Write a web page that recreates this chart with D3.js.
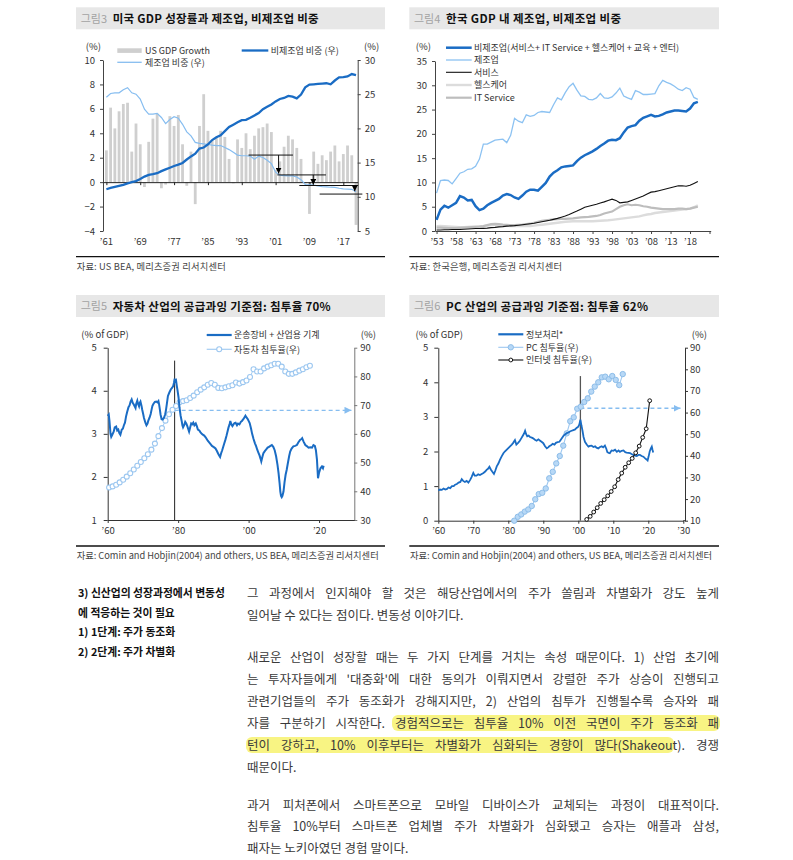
<!DOCTYPE html>
<html><head><meta charset="utf-8">
<script src="https://cdn.jsdelivr.net/npm/d3@7"></script>
<style>
body{margin:0;background:#fff;}
svg text{font-family:"Noto Sans CJK KR","Noto Sans",sans-serif;}
</style></head><body>
<svg id="page" width="793" height="860"></svg>
<script>
// ---------------- DATA ----------------
// Chart 3: US GDP growth & shares (1961-2020)
const usYears = d3.range(1961, 2021);
const usGdpGrowth = [2.6,6.1,4.4,5.8,6.4,6.5,2.5,4.8,3.1,-0.4,
  3.3,5.2,5.6,-0.5,-0.2,5.4,4.6,5.5,3.1,-0.3,
  2.5,-1.8,4.6,7.2,4.2,3.4,3.7,4.2,3.7,1.9,
  -0.1,3.5,2.8,4.0,2.7,3.8,4.4,4.5,4.8,4.1,
  1.0,1.7,2.9,3.8,3.5,2.8,1.9,-0.1,-2.6,2.5,
  1.5,2.2,1.8,2.5,3.0,1.7,2.3,3.0,2.2,-3.5];
const usNonMfgShare = [11.1,11.3,11.45,11.6,11.75,11.95,12.15,12.3,12.6,12.95,
  13.2,13.3,13.45,13.75,14.0,14.25,14.5,14.7,14.95,15.45,
  15.9,16.3,17.05,17.2,17.65,18.3,18.7,19.0,19.6,20.2,
  20.55,20.9,21.2,21.25,21.55,21.9,22.25,22.8,23.15,23.5,
  23.95,24.3,24.45,24.75,24.65,24.4,24.95,26.0,26.4,26.45,
  26.5,26.55,26.6,26.45,27.0,27.45,27.5,27.6,27.95,27.8];
const usMfgShare = [24.55,25.1,25.2,25.2,25.65,25.95,25.2,25.0,24.3,22.8,
  22.1,22.1,22.2,21.6,20.7,21.3,21.7,21.5,20.6,19.5,
  18.9,17.95,17.8,17.75,17.65,17.55,17.48,17.5,17.2,16.9,
  16.5,16.1,16.0,16.0,15.95,15.5,15.95,15.75,15.35,14.85,
  13.6,13.15,13.1,13.05,13.05,12.9,12.5,11.8,11.75,11.7,
  11.6,11.5,11.45,11.4,11.38,11.25,11.15,11.12,11.1,10.75];
const usTickYears = [1961,1969,1977,1985,1993,2001,2009,2017];
const usLeftTicks = [-4,-2,0,2,4,6,8,10];
const usRightTicks = [5,10,15,20,25,30];
// step-down annotation levels (right axis) [fromYear, toYear, level]
const usLevelLines = [[1994.6,2005.1,16.1],[2001.4,2012.9,13.2],[2006.6,2020.5,11.65],[2011.4,2021.5,10.4]];
// arrows [year, fromLevel, toLevel]
const usLevelArrows = [[2001.7,16.1,13.4],[2009.9,13.2,11.75],[2019.7,11.65,10.8]];

// Chart 4: Korea shares of GDP (1953-2020)
const krYears = d3.range(1953, 2021);
const krNonMfg = [2.3,4.4,5.2,4.8,5.3,5.8,7.2,6.9,
  6.3,6.4,5.1,4.3,4.6,5.3,5.8,6.2,6.6,7.3,
  7.6,7.4,6.9,6.6,7.3,8.1,8.5,8.5,8.3,9.1,
  9.9,11.2,12.0,12.5,13.1,13.3,13.4,13.5,14.4,15.1,
  15.6,16.0,16.4,16.9,17.5,18.0,18.6,18.8,18.7,19.1,
  20.3,21.3,21.6,21.8,22.7,23.3,23.6,23.9,23.6,23.7,
  24.0,24.4,24.6,24.8,24.8,24.7,24.6,25.2,26.3,26.6];
const krMfg = [7.8,10.4,10.5,10.4,9.7,10.8,11.9,12.2,
  12.7,12.8,13.3,14.8,17.9,17.9,18.3,18.7,18.8,18.9,
  18.2,19.7,23.2,22.6,22.3,23.9,23.6,23.8,24.4,24.6,
  24.5,24.4,26.0,27.4,27.0,28.5,29.7,30.4,29.0,27.8,
  27.7,27.1,27.0,27.4,28.3,27.4,27.3,27.6,28.4,29.4,
  27.8,27.4,27.1,28.9,28.6,28.1,28.1,28.2,28.3,29.9,
  31.0,30.6,30.3,29.8,29.2,28.9,29.5,29.2,27.5,27.1];
const krService = [0.2,0.2,0.25,0.25,0.3,0.3,0.3,0.35,
  0.4,0.45,0.5,0.5,0.55,0.6,0.7,0.75,0.85,0.9,
  1.0,1.05,1.1,1.2,1.3,1.4,1.5,1.6,1.75,1.9,
  2.05,2.2,2.4,2.6,2.85,3.1,3.4,3.75,4.1,4.5,
  4.9,5.1,5.3,5.5,5.75,6.0,6.3,6.55,6.3,5.8,
  5.9,6.0,6.3,6.6,6.9,7.2,7.6,8.0,8.1,8.3,
  8.5,8.7,8.9,9.1,9.3,9.3,9.2,9.4,9.8,10.2];
const krHealth = [1.0,1.05,1.0,0.95,0.9,0.85,0.8,0.8,
  0.85,0.9,0.9,0.95,1.0,1.1,1.2,1.3,1.2,1.1,
  1.1,1.0,1.0,1.0,1.0,1.0,1.0,1.1,1.2,1.3,
  1.4,1.5,1.6,1.7,1.8,1.9,1.95,2.0,2.0,2.0,
  2.0,2.0,2.0,2.05,2.1,2.15,2.2,2.3,2.4,2.5,
  2.6,2.7,2.8,2.9,3.0,3.2,3.4,3.5,3.7,3.8,
  3.9,4.0,4.1,4.2,4.3,4.4,4.5,4.6,4.9,5.3];
const krITService = [0.7,0.7,0.65,0.6,0.6,0.6,0.65,0.7,
  0.75,0.8,0.85,0.9,1.0,1.2,1.4,1.45,1.4,1.3,
  1.25,1.2,1.2,1.25,1.3,1.4,1.5,1.7,1.9,2.1,
  2.2,2.3,2.4,2.45,2.5,2.5,2.55,2.6,2.7,2.8,
  2.85,2.9,3.0,3.1,3.3,3.6,3.8,4.0,4.5,5.0,
  5.3,5.5,5.3,5.4,5.3,5.1,5.0,4.8,4.7,4.6,
  4.5,4.5,4.5,4.5,4.6,4.6,4.5,4.6,4.8,5.0];
const krTickYears = [1953,1958,1963,1968,1973,1978,1983,1988,1993,1998,2003,2008,2013,2018,2023];
const krYTicks = [0,5,10,15,20,25,30,35];

// Chart 5: transport equipment + machinery (% of GDP) and auto penetration
const machinery = [[1960.0,3.42],[1960.3,3.45],[1960.5,3.3],[1960.8,3.0],[1961.0,2.93],[1961.3,2.98],[1961.7,3.05],[1962.0,3.15],[1962.4,3.17],[1962.7,3.08],[1963.0,3.1],[1963.3,3.02],[1963.6,2.98],[1964.0,3.1],[1964.3,3.12],[1964.6,3.2],[1964.9,3.26],[1965.2,3.4],[1965.5,3.5],[1965.9,3.62],[1966.2,3.66],[1966.5,3.75],[1966.8,3.8],[1967.1,3.72],[1967.4,3.68],[1967.9,3.6],[1968.1,3.7],[1968.4,3.77],[1968.6,3.7],[1968.9,3.64],[1969.1,3.72],[1969.3,3.75],[1969.6,3.65],[1969.8,3.56],[1970.1,3.45],[1970.3,3.37],[1970.7,3.26],[1971.0,3.2],[1971.3,3.24],[1971.5,3.3],[1971.9,3.38],[1972.2,3.46],[1972.5,3.58],[1972.7,3.65],[1973.0,3.7],[1973.4,3.74],[1973.8,3.75],[1974.1,3.73],[1974.4,3.76],[1974.6,3.68],[1974.8,3.57],[1975.0,3.45],[1975.3,3.34],[1975.6,3.33],[1976.0,3.38],[1976.3,3.45],[1976.5,3.53],[1976.8,3.7],[1977.1,3.88],[1977.5,3.96],[1977.9,4.03],[1978.2,4.06],[1978.6,4.11],[1978.8,4.18],[1979.0,4.28],[1979.2,4.22],[1979.4,4.24],[1979.6,4.12],[1979.8,4.02],[1980.1,3.85],[1980.4,3.6],[1980.7,3.42],[1981.0,3.3],[1981.2,3.2],[1981.4,3.15],[1981.7,3.2],[1982.0,3.28],[1982.3,3.24],[1982.6,3.18],[1982.9,3.1],[1983.1,3.05],[1983.4,3.15],[1983.7,3.24],[1984.0,3.22],[1984.3,3.26],[1984.6,3.2],[1985.0,3.24],[1985.3,3.18],[1985.6,3.1],[1986.0,3.08],[1986.3,3.04],[1986.7,3.0],[1987.0,2.98],[1987.4,2.96],[1987.8,2.92],[1988.1,2.88],[1988.4,2.84],[1988.8,2.8],[1989.2,2.76],[1989.6,2.72],[1990.0,2.7],[1990.3,2.68],[1990.6,2.66],[1991.0,2.6],[1991.3,2.55],[1991.6,2.5],[1991.9,2.46],[1992.2,2.55],[1992.5,2.62],[1992.8,2.7],[1993.1,2.78],[1993.4,2.86],[1993.7,2.95],[1994.0,3.05],[1994.3,3.15],[1994.6,3.22],[1994.8,3.3],[1995.1,3.22],[1995.4,3.18],[1995.7,3.22],[1996.0,3.25],[1996.3,3.26],[1996.7,3.2],[1997.0,3.24],[1997.4,3.22],[1997.8,3.28],[1998.1,3.3],[1998.5,3.34],[1998.8,3.38],[1999.1,3.42],[1999.4,3.38],[1999.7,3.35],[2000.0,3.3],[2000.3,3.25],[2000.7,3.12],[2001.0,3.0],[2001.4,2.88],[2001.8,2.78],[2002.1,2.72],[2002.5,2.62],[2002.8,2.56],[2003.1,2.5],[2003.4,2.42],[2003.6,2.36],[2003.9,2.46],[2004.2,2.55],[2004.6,2.6],[2005.0,2.64],[2005.4,2.68],[2005.8,2.7],[2006.2,2.72],[2006.6,2.74],[2007.0,2.7],[2007.4,2.62],[2007.8,2.48],[2008.2,2.28],[2008.5,2.09],[2008.8,1.85],[2009.0,1.66],[2009.2,1.56],[2009.4,1.53],[2009.6,1.56],[2009.9,1.66],[2010.2,1.88],[2010.5,2.05],[2010.8,2.16],[2011.1,2.3],[2011.5,2.48],[2011.8,2.59],[2012.2,2.66],[2012.7,2.71],[2013.2,2.72],[2013.7,2.74],[2014.1,2.8],[2014.6,2.86],[2015.0,2.88],[2015.2,2.9],[2015.6,2.82],[2016.1,2.74],[2016.6,2.71],[2017.0,2.68],[2017.5,2.69],[2018.0,2.68],[2018.4,2.74],[2018.8,2.72],[2019.1,2.62],[2019.4,2.4],[2019.7,1.97],[2020.0,2.1],[2020.4,2.2],[2020.8,2.24],[2021.1,2.2],[2021.3,2.26]];
const autoYears = d3.range(1960, 2018);
const autoPenetration = [41.3,41.7,42.3,43.1,44.0,45.1,46.3,47.6,48.9,50.2,
  51.5,52.9,54.5,56.6,59.2,62.0,64.6,66.8,68.4,69.7,
  71.0,71.4,71.7,72.5,73.3,74.5,75.4,76.2,77.1,77.7,
  77.1,76.0,75.9,76.2,76.6,76.9,77.9,77.5,78.0,78.6,
  79.8,82.5,81.7,81.7,82.8,83.4,83.9,84.4,84.4,83.4,
  81.7,80.9,80.9,81.4,82.0,82.5,83.2,83.7];
const autoMarkYear = 1979, autoMarkTop = 4.7, autoThreshold = 68.2;

// Chart 6: information processing (% of GDP), PC & internet penetration
const infoProc = [[1960.0,0.87],[1960.5,0.9],[1961.0,0.89],[1961.5,0.93],[1962.0,0.9],[1962.5,0.92],[1962.9,0.96],[1963.4,0.94],[1963.9,1.0],[1964.4,1.0],[1964.8,1.04],[1965.3,1.06],[1965.8,1.1],[1966.3,1.12],[1966.7,1.2],[1967.1,1.15],[1967.6,1.12],[1968.1,1.15],[1968.6,1.1],[1969.1,1.18],[1969.5,1.26],[1970.0,1.38],[1970.4,1.3],[1970.9,1.3],[1971.4,1.34],[1971.9,1.32],[1972.4,1.35],[1972.9,1.38],[1973.4,1.42],[1973.8,1.47],[1974.2,1.5],[1974.6,1.56],[1975.0,1.48],[1975.4,1.42],[1975.9,1.35],[1976.3,1.45],[1976.7,1.57],[1977.2,1.66],[1977.6,1.76],[1978.1,1.86],[1978.6,1.95],[1979.0,2.0],[1979.5,2.05],[1980.0,2.1],[1980.5,2.15],[1981.0,2.2],[1981.4,2.25],[1981.9,2.33],[1982.3,2.2],[1982.8,2.25],[1983.3,2.31],[1983.7,2.38],[1984.1,2.45],[1984.5,2.52],[1984.8,2.6],[1985.1,2.5],[1985.4,2.44],[1985.8,2.46],[1986.2,2.42],[1986.7,2.4],[1987.1,2.38],[1987.6,2.34],[1988.1,2.31],[1988.6,2.35],[1989.0,2.32],[1989.5,2.28],[1990.0,2.24],[1990.5,2.15],[1991.0,2.09],[1991.4,2.12],[1991.7,2.15],[1992.2,2.18],[1992.7,2.22],[1993.2,2.2],[1993.6,2.25],[1994.1,2.27],[1994.6,2.28],[1995.2,2.37],[1995.9,2.47],[1996.3,2.5],[1996.7,2.53],[1997.2,2.55],[1997.6,2.58],[1998.1,2.6],[1998.6,2.62],[1999.1,2.64],[1999.5,2.68],[2000.0,2.72],[2000.3,2.78],[2000.6,2.92],[2000.9,2.75],[2001.2,2.6],[2001.5,2.42],[2001.9,2.28],[2002.4,2.2],[2002.9,2.14],[2003.3,2.16],[2003.8,2.17],[2004.3,2.13],[2004.8,2.15],[2005.2,2.11],[2005.7,2.09],[2006.2,2.13],[2006.7,2.15],[2007.1,2.12],[2007.6,2.17],[2008.0,2.08],[2008.3,1.98],[2008.7,1.96],[2009.0,1.95],[2009.5,2.03],[2010.0,2.02],[2010.5,2.05],[2011.0,1.99],[2011.5,2.03],[2011.9,1.99],[2012.4,2.02],[2012.9,2.03],[2013.4,1.98],[2013.8,1.97],[2014.3,1.96],[2014.8,1.95],[2015.2,1.93],[2015.7,1.9],[2016.2,1.88],[2016.7,1.87],[2017.2,1.9],[2017.6,1.9],[2018.1,1.87],[2018.6,1.85],[2019.1,1.8],[2019.5,1.77],[2019.8,1.74],[2020.1,1.86],[2020.4,2.0],[2020.7,2.08],[2021.0,2.14],[2021.2,2.05],[2021.4,1.97]];
const pcYears = d3.range(1982, 2014);
const pcPenetration = [10.0,11.8,12.9,14.2,15.2,16.8,19.9,22.3,22.9,24.9,
  29.6,32.6,36.5,39.9,44.7,50.4,56.0,57.8,61.8,62.7,
  64.9,66.6,69.7,72.0,74.0,76.3,76.6,75.4,76.9,75.1,72.7,77.8];
const netYears = d3.range(2002, 2021);
const netPenetration = [10.6,12.0,14.0,16.0,18.0,19.7,21.5,23.5,25.7,29.0,
  32.0,34.7,36.8,38.8,41.4,44.5,48.5,52.5,65.5];
const pcMarkYear = 2000.6, pcMarkTop = 4.18, pcThreshold = 62;
const decadeTicks = [1960,1970,1980,1990,2000,2010,2020,2030];

// Text block
const sideNotes = ["3) 신산업의 성장과정에서 변동성","에 적응하는 것이 필요","1) 1단계: 주가 동조화","2) 2단계: 주가 차별화"];
const bodyLines = [
  ["그 과정에서 인지해야 할 것은 해당산업에서의 주가 쏠림과 차별화가 강도 높게", true],
  ["일어날 수 있다는 점이다. 변동성 이야기다.", false],
  ["새로운 산업이 성장할 때는 두 가지 단계를 거치는 속성 때문이다. 1) 산업 초기에", true],
  ["는 투자자들에게 '대중화'에 대한 동의가 이뤄지면서 강렬한 주가 상승이 진행되고", true],
  ["관련기업들의 주가 동조화가 강해지지만, 2) 산업의 침투가 진행될수록 승자와 패", true],
  ["자를 구분하기 시작한다. 경험적으로는 침투율 10% 이전 국면이 주가 동조화 패", true],
  ["턴이 강하고, 10% 이후부터는 차별화가 심화되는 경향이 많다(Shakeout). 경쟁", true],
  ["때문이다.", false],
  ["과거 피처폰에서 스마트폰으로 모바일 디바이스가 교체되는 과정이 대표적이다.", true],
  ["침투율 10%부터 스마트폰 업체별 주가 차별화가 심화됐고 승자는 애플과 삼성,", true],
  ["패자는 노키아였던 경험 말이다.", false]];

// ---------------- DRAWING ----------------
const FONT = '"Noto Sans CJK KR","Noto Sans",sans-serif';
const DARK = "#1a6cc4", LIGHT = "#86bdf0";
const svg = d3.select("#page");
const defs = svg.append("defs");
function marker(id, color, size) {
  defs.append("marker").attr("id", id).attr("viewBox", "0 0 10 10").attr("refX", 10).attr("refY", 5)
    .attr("markerWidth", size).attr("markerHeight", size).attr("markerUnits", "userSpaceOnUse").attr("orient", "auto")
    .append("path").attr("d", "M0,0L10,5L0,10Z").attr("fill", color);
}
marker("arrK", "#000", 6);
marker("arrB", "#86bdf0", 7);

function styleAxis(sel, color) {
  sel.attr("font-family", FONT).attr("font-size", 9.5);
  sel.select(".domain").attr("stroke", color);
  sel.selectAll(".tick line").attr("stroke", color);
  sel.selectAll(".tick text").attr("fill", "#333");
}
const yr = y => "’" + String(y).slice(2);
const intFmt = d3.format("d");

function header(x, y, w, label, title, titleW) {
  svg.append("rect").attr("x", x).attr("y", y).attr("width", w).attr("height", 22).attr("fill", "#e7e7e7");
  svg.append("text").attr("x", x + 4.7).attr("y", y + 15.3).attr("font-size", 11).attr("fill", "#a3a3a3").text(label);
  svg.append("text").attr("x", x + 36.7).attr("y", y + 15.5).attr("font-size", 11.5).attr("font-weight", 700)
    .attr("fill", "#111").attr("textLength", titleW).attr("lengthAdjust", "spacing").text(title);
}
function source(x, y, w, txt, txtW) {
  svg.append("line").attr("x1", x).attr("x2", x + w).attr("y1", y).attr("y2", y).attr("stroke", "#111").attr("stroke-width", 1.3);
  svg.append("text").attr("x", x + 0.7).attr("y", y + 13.3).attr("font-size", 9.3).attr("fill", "#444")
    .attr("textLength", txtW).attr("lengthAdjust", "spacing").text(txt);
}
function legendText(x, y, t) {
  svg.append("text").attr("x", x).attr("y", y + 3.3).attr("font-size", 9).attr("fill", "#333").text(t);
}

// ===== Chart 3 =====
header(76, 7.3, 309, "그림3", "미국 GDP 성장률과 제조업, 비제조업 비중", 206);
{
  const x = d3.scaleLinear().domain([1960.2, 2020.4]).range([103, 357.7]);
  const yL = d3.scaleLinear().domain([-4, 10]).range([231, 60]);
  const yR = d3.scaleLinear().domain([5, 30]).range([231, 60]);
  const g = svg.append("g");
  g.selectAll("rect.bar").data(usGdpGrowth).join("rect").attr("class", "bar")
    .attr("x", (d, i) => x(usYears[i]) - 1.4).attr("width", 2.8)
    .attr("y", d => yL(Math.max(0, d))).attr("height", d => Math.abs(yL(d) - yL(0)))
    .attr("fill", "#cfcfcf");
  g.append("g").attr("transform", `translate(103,0)`)
    .call(d3.axisLeft(yL).tickValues(usLeftTicks).tickSize(3).tickSizeOuter(0).tickPadding(5)).call(styleAxis, "#444");
  g.append("g").attr("transform", `translate(357.7,0)`)
    .call(d3.axisRight(yR).tickValues(usRightTicks).tickSize(3).tickSizeOuter(0).tickPadding(4)).call(styleAxis, "#444");
  g.append("g").attr("transform", `translate(0,${yL(0)})`)
    .call(d3.axisBottom(x).tickValues(usTickYears).tickSize(3).tickSizeOuter(0).tickFormat("")).call(styleAxis, "#222");
  g.selectAll("text.xl").data(usTickYears).join("text").attr("class", "xl")
    .attr("x", d => x(d)).attr("y", 245).attr("text-anchor", "middle").attr("font-size", 9.5).attr("fill", "#333").text(yr);
  const line = d3.line().x((d, i) => x(usYears[i])).y(d => yR(d));
  g.append("path").attr("d", line(usMfgShare)).attr("fill", "none").attr("stroke", LIGHT).attr("stroke-width", 1.2);
  g.append("path").attr("d", line(usNonMfgShare)).attr("fill", "none").attr("stroke", DARK).attr("stroke-width", 2.3);
  g.selectAll("line.lv").data(usLevelLines).join("line").attr("class", "lv")
    .attr("x1", d => x(d[0])).attr("x2", d => x(d[1])).attr("y1", d => yR(d[2])).attr("y2", d => yR(d[2]))
    .attr("stroke", "#111").attr("stroke-width", 1);
  g.selectAll("line.ar").data(usLevelArrows).join("line").attr("class", "ar")
    .attr("x1", d => x(d[0])).attr("x2", d => x(d[0])).attr("y1", d => yR(d[1])).attr("y2", d => yR(d[2]))
    .attr("stroke", "#111").attr("stroke-width", 1).attr("marker-end", "url(#arrK)");
  svg.append("text").attr("x", 93.3).attr("y", 49.5).attr("text-anchor", "middle").attr("font-size", 9.5).attr("fill", "#333").text("(%)");
  svg.append("text").attr("x", 371.7).attr("y", 49.5).attr("text-anchor", "middle").attr("font-size", 9.5).attr("fill", "#333").text("(%)");
  svg.append("rect").attr("x", 117.3).attr("y", 48.3).attr("width", 24.4).attr("height", 4.6).attr("fill", "#cfcfcf");
  legendText(145, 50.5, "US GDP Growth");
  svg.append("line").attr("x1", 241.7).attr("x2", 268.3).attr("y1", 50.5).attr("y2", 50.5).attr("stroke", DARK).attr("stroke-width", 2.3);
  legendText(270.7, 50.5, "비제조업 비중 (우)");
  svg.append("line").attr("x1", 117.3).attr("x2", 141.7).attr("y1", 62.3).attr("y2", 62.3).attr("stroke", LIGHT).attr("stroke-width", 1.3);
  legendText(145, 62.3, "제조업 비중 (우)");
}
source(76, 256.7, 309, "자료: US BEA, 메리츠증권 리서치센터", 149);

// ===== Chart 4 =====
header(409.3, 7.3, 309.7, "그림4", "한국 GDP 내 제조업, 비제조업 비중", 175);
{
  const x = d3.scaleLinear().domain([1952.6, 2023.3]).range([435, 710.7]);
  const y = d3.scaleLinear().domain([0, 35]).range([231, 61]);
  const g = svg.append("g");
  g.append("g").attr("transform", `translate(435,0)`)
    .call(d3.axisLeft(y).tickValues(krYTicks).tickSize(3).tickSizeOuter(0).tickPadding(5)).call(styleAxis, "#444");
  g.append("g").attr("transform", `translate(0,231)`)
    .call(d3.axisBottom(x).tickValues(krTickYears).tickSize(3).tickSizeOuter(0).tickPadding(4)
      .tickFormat(d => d === 2023 ? "" : yr(d))).call(styleAxis, "#444");
  const line = d3.line().x((d, i) => x(krYears[i])).y(d => y(d));
  const series = [[krHealth, "#dcdcdc", 2.4], [krITService, "#bdbdbd", 2.2], [krService, "#111", 1.1],
                  [krMfg, "#8cc2f2", 1.3], [krNonMfg, DARK, 2.5]];
  series.forEach(s => g.append("path").attr("d", line(s[0])).attr("fill", "none").attr("stroke", s[1]).attr("stroke-width", s[2]));
  svg.append("text").attr("x", 423.3).attr("y", 49.5).attr("text-anchor", "middle").attr("font-size", 9.5).attr("fill", "#333").text("(%)");
  const leg = [["비제조업(서비스+ IT Service + 헬스케어 + 교육 + 엔터)", DARK, 2.5], ["제조업", "#8cc2f2", 1.3],
               ["서비스", "#111", 1.1], ["헬스케어", "#dcdcdc", 2.4], ["IT Service", "#bdbdbd", 2.2]];
  const rows = [47.7, 60, 72.3, 85, 97.7];
  leg.forEach((l, i) => {
    svg.append("line").attr("x1", 446).attr("x2", 471.7).attr("y1", rows[i]).attr("y2", rows[i]).attr("stroke", l[1]).attr("stroke-width", l[2]);
    legendText(474, rows[i], l[0]);
  });
}
source(409.3, 256.7, 309.7, "자료: 한국은행, 메리츠증권 리서치센터", 152);

// ===== Chart 5 =====
header(76, 295, 309, "그림5", "자동차 산업의 공급과잉 기준점: 침투율 70%", 218);
{
  const x = d3.scaleLinear().domain([1960, 2030]).range([107.7, 354.3]);
  const yL = d3.scaleLinear().domain([1, 5]).range([520, 347.7]);
  const yR = d3.scaleLinear().domain([30, 90]).range([520, 347.7]);
  const g = svg.append("g");
  g.append("g").attr("transform", `translate(107.7,0)`)
    .call(d3.axisLeft(yL).tickValues([1, 2, 3, 4, 5]).tickFormat(intFmt).tickSize(4).tickSizeOuter(0).tickPadding(7)).call(styleAxis, "#333");
  g.append("g").attr("transform", `translate(354.3,0)`)
    .call(d3.axisRight(yR).tickValues([30, 40, 50, 60, 70, 80, 90]).tickSize(3).tickSizeOuter(0).tickPadding(3)).call(styleAxis, "#777");
  g.append("g").attr("transform", `translate(0,520)`)
    .call(d3.axisBottom(x).tickValues([1960, 1980, 2000, 2020]).tickSize(3).tickSizeOuter(0).tickPadding(4).tickFormat(yr)).call(styleAxis, "#333");
  g.append("line").attr("x1", x(autoMarkYear)).attr("x2", x(autoMarkYear)).attr("y1", yL(autoMarkTop)).attr("y2", 520)
    .attr("stroke", "#222").attr("stroke-width", 1);
  g.append("line").attr("x1", x(autoMarkYear)).attr("x2", x(2029.2)).attr("y1", yR(autoThreshold)).attr("y2", yR(autoThreshold))
    .attr("stroke", LIGHT).attr("stroke-width", 1.3).attr("stroke-dasharray", "4,3").attr("marker-end", "url(#arrB)");
  const lineA = d3.line().x((d, i) => x(autoYears[i] + 0.4)).y(d => yR(d));
  g.append("path").attr("d", lineA(autoPenetration)).attr("fill", "none").attr("stroke", "#a4ccf2").attr("stroke-width", 1);
  g.selectAll("circle.ap").data(autoPenetration).join("circle").attr("class", "ap")
    .attr("cx", (d, i) => x(autoYears[i] + 0.4)).attr("cy", d => yR(d)).attr("r", 2.5)
    .attr("fill", "#fff").attr("stroke", "#9cc7f0").attr("stroke-width", 1.1);
  const lineM = d3.line().x(d => x(d[0])).y(d => yL(d[1]));
  g.append("path").attr("d", lineM(machinery)).attr("fill", "none").attr("stroke", DARK).attr("stroke-width", 2);
  svg.append("text").attr("x", 105).attr("y", 338).attr("text-anchor", "middle").attr("font-size", 9.5).attr("fill", "#333").text("(% of GDP)");
  svg.append("text").attr("x", 368.3).attr("y", 338).attr("text-anchor", "middle").attr("font-size", 9.5).attr("fill", "#333").text("(%)");
  svg.append("line").attr("x1", 206.7).attr("x2", 231.7).attr("y1", 335).attr("y2", 335).attr("stroke", DARK).attr("stroke-width", 2.2);
  legendText(234, 335, "운송장비 + 산업용 기계");
  svg.append("line").attr("x1", 206.7).attr("x2", 231.7).attr("y1", 349.3).attr("y2", 349.3).attr("stroke", "#a4ccf2").attr("stroke-width", 1.2);
  svg.append("circle").attr("cx", 219.2).attr("cy", 349.3).attr("r", 2.5).attr("fill", "#fff").attr("stroke", "#9cc7f0").attr("stroke-width", 1.1);
  legendText(234, 349.3, "자동차 침투율(우)");
}
source(76, 546, 309, "자료: Comin and Hobjin(2004) and others, US BEA, 메리츠증권 리서치센터", 302);

// ===== Chart 6 =====
header(409.3, 295, 309.7, "그림6", "PC 산업의 공급과잉 기준점: 침투율 62%", 202);
{
  const x = d3.scaleLinear().domain([1960, 2030]).range([438.3, 683.3]);
  const yL = d3.scaleLinear().domain([0, 5]).range([520.7, 347.7]);
  const yR = d3.scaleLinear().domain([10, 90]).range([520.7, 347.7]);
  const g = svg.append("g");
  g.append("g").attr("transform", `translate(438.3,0)`)
    .call(d3.axisLeft(yL).tickValues([0, 1, 2, 3, 4, 5]).tickFormat(intFmt).tickSize(4).tickSizeOuter(0).tickPadding(6)).call(styleAxis, "#333");
  g.append("g").attr("transform", `translate(685,0)`)
    .call(d3.axisRight(yR).tickValues([10, 20, 30, 40, 50, 60, 70, 80, 90]).tickSize(3).tickSizeOuter(0).tickPadding(2)).call(styleAxis, "#333");
  g.append("g").attr("transform", `translate(0,520.7)`)
    .call(d3.axisBottom(x).tickValues(decadeTicks).tickSize(3).tickSizeOuter(0).tickPadding(4).tickFormat(yr)).call(styleAxis, "#333");
  g.append("line").attr("x1", 683.3).attr("x2", 685).attr("y1", 520.7).attr("y2", 520.7).attr("stroke", "#333");
  g.append("line").attr("x1", x(pcMarkYear)).attr("x2", x(pcMarkYear)).attr("y1", yL(pcMarkTop)).attr("y2", 520.7)
    .attr("stroke", "#555").attr("stroke-width", 1.3);
  g.append("line").attr("x1", x(pcMarkYear)).attr("x2", x(2029.2)).attr("y1", yR(pcThreshold)).attr("y2", yR(pcThreshold))
    .attr("stroke", LIGHT).attr("stroke-width", 1.3).attr("stroke-dasharray", "4,3").attr("marker-end", "url(#arrB)");
  const lineP = d3.line().x((d, i) => x(pcYears[i] - 0.3)).y(d => yR(d));
  g.append("path").attr("d", lineP(pcPenetration)).attr("fill", "none").attr("stroke", "#9cc7f0").attr("stroke-width", 1.1);
  g.selectAll("circle.pc").data(pcPenetration).join("circle").attr("class", "pc")
    .attr("cx", (d, i) => x(pcYears[i] - 0.3)).attr("cy", d => yR(d)).attr("r", 2.7)
    .attr("fill", "#b7d8f6").attr("stroke", "#8dbde9").attr("stroke-width", 1);
  const lineI = d3.line().x(d => x(d[0])).y(d => yL(d[1]));
  g.append("path").attr("d", lineI(infoProc)).attr("fill", "none").attr("stroke", DARK).attr("stroke-width", 1.8);
  const lineN = d3.line().x((d, i) => x(netYears[i] + 0.4)).y(d => yR(d));
  g.append("path").attr("d", lineN(netPenetration)).attr("fill", "none").attr("stroke", "#111").attr("stroke-width", 1.1);
  g.selectAll("circle.nt").data(netPenetration).join("circle").attr("class", "nt")
    .attr("cx", (d, i) => x(netYears[i] + 0.4)).attr("cy", d => yR(d)).attr("r", 1.9)
    .attr("fill", "#fff").attr("stroke", "#111").attr("stroke-width", 1);
  svg.append("text").attr("x", 439.3).attr("y", 337.5).attr("text-anchor", "middle").attr("font-size", 9.5).attr("fill", "#333").text("(% of GDP)");
  svg.append("text").attr("x", 699.3).attr("y", 337.5).attr("text-anchor", "middle").attr("font-size", 9.5).attr("fill", "#333").text("(%)");
  svg.append("line").attr("x1", 498.3).attr("x2", 523.3).attr("y1", 334.3).attr("y2", 334.3).attr("stroke", DARK).attr("stroke-width", 2.2);
  legendText(526, 334.3, "정보처리*");
  svg.append("line").attr("x1", 498.3).attr("x2", 523.3).attr("y1", 347.3).attr("y2", 347.3).attr("stroke", "#9cc7f0").attr("stroke-width", 1.1);
  svg.append("circle").attr("cx", 510.8).attr("cy", 347.3).attr("r", 2.7).attr("fill", "#b7d8f6").attr("stroke", "#8dbde9");
  legendText(526, 347.3, "PC 침투율(우)");
  svg.append("line").attr("x1", 498.3).attr("x2", 523.3).attr("y1", 360).attr("y2", 360).attr("stroke", "#111").attr("stroke-width", 1.1);
  svg.append("circle").attr("cx", 510.8).attr("cy", 360).attr("r", 1.9).attr("fill", "#fff").attr("stroke", "#111");
  legendText(526, 360, "인터넷 침투율(우)");
}
source(409.3, 546, 309.7, "자료: Comin and Hobjin(2004) and others, US BEA, 메리츠증권 리서치센터", 302);

// ===== Text block =====
const sideY = [593, 612.5, 632, 652];
sideNotes.forEach((t, i) => svg.append("text").attr("x", 78).attr("y", sideY[i] + 4)
  .attr("font-size", 10.8).attr("font-weight", 700).attr("fill", "#111").text(t));
const bodyY = [593, 615, 657, 679, 701, 723, 745, 767, 805, 826, 848];
// highlighter
svg.append("rect").attr("x", 392).attr("y", 715).attr("width", 328).attr("height", 16).attr("rx", 6).attr("fill", "#f6f164").attr("opacity", 0.8);
svg.append("rect").attr("x", 246).attr("y", 737).attr("width", 428).attr("height", 16).attr("rx", 6).attr("fill", "#f6f164").attr("opacity", 0.8);
bodyLines.forEach((l, i) => {
  const t = svg.append("text").attr("x", 247).attr("y", bodyY[i] + 4.6).attr("font-size", 12.5).attr("fill", "#3a3a3a").text(l[0]);
  if (l[1]) {
    const w = t.node().getComputedTextLength();
    const spaces = (l[0].match(/ /g) || []).length;
    if (spaces > 0) t.attr("word-spacing", ((472 - w) / spaces).toFixed(2));
  }
});
</script>
</body></html>
